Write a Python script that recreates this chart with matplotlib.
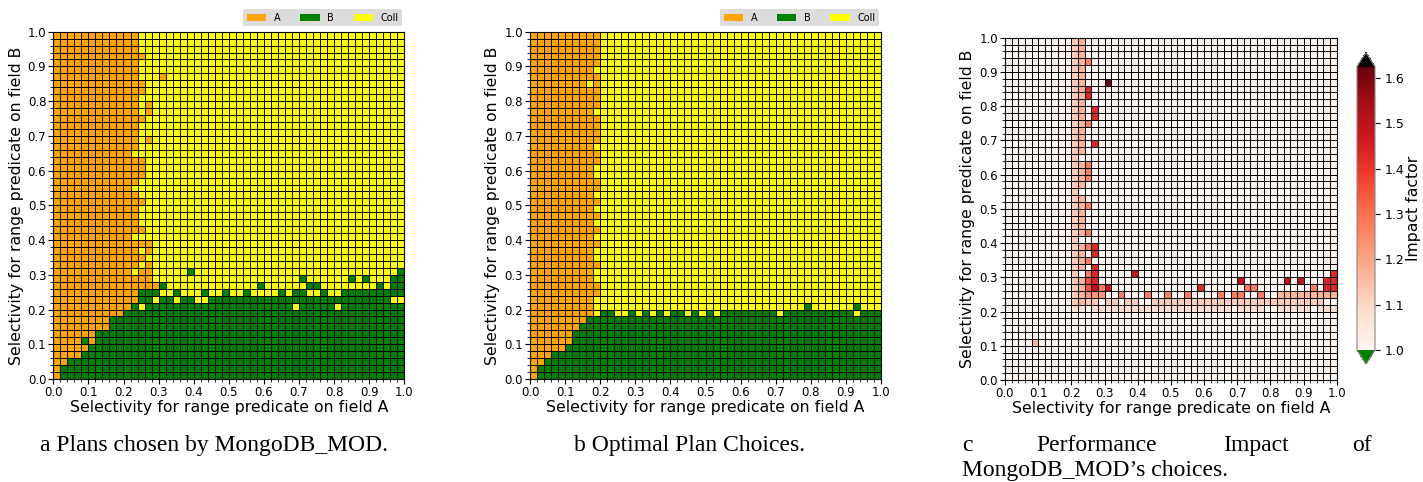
import numpy as np
import matplotlib
matplotlib.use("Agg")
import matplotlib.pyplot as plt
from matplotlib.colors import ListedColormap, BoundaryNorm, Normalize
from matplotlib.patches import Patch
from matplotlib.ticker import MultipleLocator, FormatStrFormatter

# ---------------- data ----------------
N_CELLS = 50
plan_names = ["A", "B", "Coll"]
plan_colors = ["orange", "green", "yellow"]

# run-length encoded rows, top row (selectivity B 0.98-1.00) first
# A = index on A, B = index on B, C = collection scan
plans_mod = [
    "A12 C38", "A12 C38", "A12 C38", "A13 C37", "A12 C38", "A12 C38",
    "A12 C3 A1 C34", "A13 C37", "A13 C37", "A12 C38", "A12 C1 A1 C36",
    "A12 C1 A1 C36", "A13 C37", "A12 C38", "A12 C38", "A12 C1 A1 C36",
    "A12 C38", "A11 C39", "A13 C37", "A13 C37", "A13 C37", "A12 C38",
    "A11 C39", "A12 C38", "A13 C37", "A12 C38", "A12 C38", "A12 C38",
    "A13 C37", "A11 C39", "A14 C36", "A12 C1 A1 C36", "A13 C37",
    "A12 C1 A1 C36",
    "A11 C1 A2 C5 B1 C29 B1",
    "A14 C21 B1 C6 B1 C1 B1 C3 B2",
    "A15 B1 C13 B1 C6 B2 C8 B1 C1 B2",
    "A12 B3 C2 B1 C3 B1 C2 B1 C2 B1 C4 B1 C1 B2 C2 B1 C2 B9",
    "A12 B2 C1 B2 C1 B2 C2 B26 C2",
    "A11 B1 C1 B21 C1 B5 C1 B9",
    "A10 B40", "A8 B42", "A8 B42", "A6 B44", "A4 B1 A1 B44", "A5 B45",
    "A4 B46", "A2 B48", "A1 B49", "A1 B49",
]

plans_opt = [
    "A10 C40", "A10 C40", "A10 C40", "A10 C40", "A10 C40", "A9 C41",
    "A10 C40", "A8 C1 A1 C40", "A10 C40", "A10 C40", "A10 C40", "A9 C41",
    "A10 C40", "A10 C40", "A10 C40", "A10 C40", "A9 C41", "A10 C40",
    "A10 C40", "A9 C41", "A9 C41", "A10 C40", "A10 C40", "A9 C41",
    "A10 C40", "A9 C41", "A10 C40", "A9 C41", "A10 C40", "A9 C41",
    "A10 C40", "A9 C41", "A9 C41", "A10 C40", "A9 C41", "A9 C41",
    "A10 C40", "A10 C40", "A9 C41",
    "A9 C30 B1 C6 B1 C3",
    "A9 C1 B2 C2 B1 C1 B1 C1 B1 C1 B2 C1 B1 C1 B1 C1 B8 C1 B10 C1 B3",
    "A8 B42", "A7 B43", "A6 B44", "A6 B44", "A5 B45", "A3 B47", "A2 B48",
    "A1 B49", "A1 B49",
]

# impact factor level codes
impact_levels = {".": 1.0, "1": 1.04, "2": 1.08, "3": 1.12, "4": 1.17,
                 "5": 1.22, "6": 1.28, "7": 1.35, "8": 1.43, "9": 1.50,
                 "X": 1.62}
impact_rows = [
    ".10 31 41 .38", ".10 31 41 .38", ".10 31 41 .38", ".10 31 41 61 .37",
    ".10 31 41 .38", ".10 31 41 .38", ".10 31 41 .3 X1 .34",
    ".10 31 41 81 .37", ".10 31 41 81 .37", ".10 31 41 .38",
    ".10 31 41 .1 81 .36", ".10 31 41 .1 81 .36", ".10 31 41 61 .37",
    ".10 31 41 .38", ".10 31 41 .38", ".10 31 41 .1 81 .36",
    ".10 31 41 .38", ".10 31 .39", ".10 31 41 61 .37", ".10 31 41 61 .37",
    ".10 31 41 61 .37", ".10 31 41 .38", ".10 31 .39", ".10 31 41 .38",
    ".10 31 41 61 .37", ".10 31 41 .38", ".10 31 41 .38", ".10 31 41 .38",
    ".10 31 41 61 .37", ".10 31 .39", ".10 31 41 61 81 .36",
    ".10 31 41 .1 81 .36", ".10 31 41 61 .37", ".10 31 41 .1 81 .36",
    ".10 31 .1 61 81 .5 91 .29 81",
    ".10 31 41 71 81 .21 91 .6 91 .1 91 .3 82",
    ".10 31 41 71 91 61 91 .13 81 .6 62 .8 61 .1 82",
    ".10 31 41 53 .2 61 .3 61 .2 61 .2 61 .4 61 .1 62 .2 61 .2 49",
    ".10 31 41 32 .1 32 .1 32 .2 326 .2",
    ".10 22 .1 221 .1 24 .2 25 .1 23",
    ".50", ".50", ".50", ".50", ".4 41 .45", ".50", ".50", ".50", ".50", ".50",
]

impact_ticks = [1.0, 1.1, 1.2, 1.3, 1.4, 1.5, 1.6]
impact_max = 1.625

captions = ["a Plans chosen by MongoDB_MOD.", "b Optimal Plan Choices."]
caption_c_words = ["c", "Performance", "Impact", "of"]
caption_c_line2 = "MongoDB\u005fMOD\u2019s choices."
xlabel = "Selectivity for range predicate on field A"
ylabel = "Selectivity for range predicate on field B"


def expand(rle):
    out = []
    for tok in rle.split():
        out += [tok[0]] * int(tok[1:])
    out = (out + [out[-1]] * N_CELLS)[:N_CELLS]
    return out


def plan_grid(rows):
    code = {"A": 0, "B": 1, "C": 2}
    g = np.array([[code[ch] for ch in expand(r)] for r in rows], dtype=float)
    return g[::-1]


def impact_grid(rows):
    g = np.array([[impact_levels[ch] for ch in expand(r)] for r in rows])
    return g[::-1]


# ---------------- figure ----------------
W, H = 1423, 482
fig = plt.figure(figsize=(W / 100, H / 100), dpi=100)

edges = np.linspace(0, 1, N_CELLS + 1)
TICK_FS = 8.5
LABEL_FS = 11.3


def px_axes(x0, x1, ytop, ybot):
    return fig.add_axes([x0 / W, 1 - ybot / H, (x1 - x0) / W, (ybot - ytop) / H])


def style_axes(ax):
    ax.set_xlim(0, 1)
    ax.set_ylim(0, 1)
    for axis in (ax.xaxis, ax.yaxis):
        axis.set_major_locator(MultipleLocator(0.1))
        axis.set_minor_locator(MultipleLocator(0.02))
        axis.set_major_formatter(FormatStrFormatter("%.1f"))
    ax.tick_params(labelsize=TICK_FS, pad=1.5)
    ax.tick_params(which="minor", length=2)
    ax.set_xlabel(xlabel, fontsize=LABEL_FS, labelpad=1)
    ax.set_ylabel(ylabel, fontsize=LABEL_FS, labelpad=3)


plan_cmap = ListedColormap(plan_colors)
plan_norm = BoundaryNorm([-0.5, 0.5, 1.5, 2.5], 3)

for (x0, x1), rows in zip([(53.3, 404.3), (530, 881)], [plans_mod, plans_opt]):
    ax = px_axes(x0, x1, 31.7, 379)
    ax.pcolormesh(edges, edges, plan_grid(rows), cmap=plan_cmap, norm=plan_norm,
                  edgecolors="k", linewidth=0.5)
    style_axes(ax)
    handles = [Patch(facecolor=c, edgecolor="none") for c in plan_colors]
    ax.legend(handles, plan_names, loc="lower right", bbox_to_anchor=(1.0, 1.01),
              ncol=3, fontsize=7, frameon=True, facecolor="#dcdcdc",
              edgecolor="none", framealpha=1, handlelength=2.0,
              handleheight=0.7, handletextpad=0.8, columnspacing=2.0,
              borderpad=0.35, borderaxespad=0.2)

axc = px_axes(1005, 1336.7, 37.7, 380)
cmap = plt.get_cmap("Reds").copy()
cmap.set_over("black")
cmap.set_under("green")
mesh = axc.pcolormesh(edges, edges, impact_grid(impact_rows), cmap=cmap,
                      norm=Normalize(vmin=1.0, vmax=impact_max),
                      edgecolors="k", linewidth=0.5)
style_axes(axc)

cax = px_axes(1357, 1375, 52.7, 364)
cb = fig.colorbar(mesh, cax=cax, extend="both", ticks=impact_ticks)
cb.ax.tick_params(labelsize=TICK_FS + 0.5)
cb.set_label("Impact factor", fontsize=LABEL_FS, labelpad=1)
cb.ax.yaxis.set_major_formatter(FormatStrFormatter("%.1f"))
cb.outline.set_edgecolor("#888888")

serif = "Liberation Serif"
cap_fs = 17
fig.text(214 / W, 1 - 451 / H, captions[0], ha="center", va="baseline",
         family=serif, fontsize=cap_fs)
fig.text(689.5 / W, 1 - 451 / H, captions[1], ha="center", va="baseline",
         family=serif, fontsize=cap_fs)
fig.text(962 / W, 1 - 451 / H, caption_c_words[0], ha="left", va="baseline",
         family=serif, fontsize=cap_fs)
fig.text(1036 / W, 1 - 451 / H, caption_c_words[1], ha="left", va="baseline",
         family=serif, fontsize=cap_fs)
fig.text(1222.7 / W, 1 - 451 / H, caption_c_words[2], ha="left", va="baseline",
         family=serif, fontsize=cap_fs)
fig.text(1371.5 / W, 1 - 451 / H, caption_c_words[3], ha="right", va="baseline",
         family=serif, fontsize=cap_fs)
fig.text(962 / W, 1 - 476 / H, caption_c_line2, ha="left", va="baseline",
         family=serif, fontsize=cap_fs)

fig.savefig("out.png", dpi=100)
